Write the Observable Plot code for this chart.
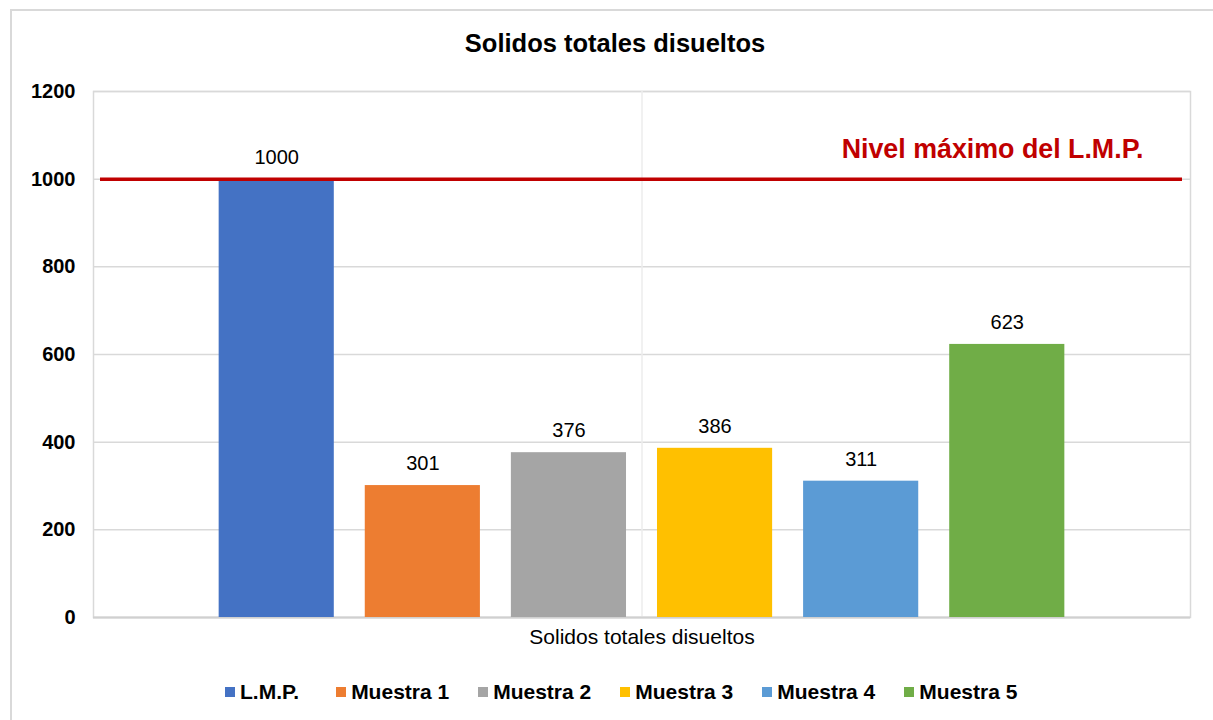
<!DOCTYPE html>
<html>
<head>
<meta charset="utf-8">
<script src="https://cdn.jsdelivr.net/npm/d3@7"></script>
<script src="https://cdn.jsdelivr.net/npm/@observablehq/plot@0.6"></script>
<style>
  html, body { margin: 0; padding: 0; background: #fff; }
  body { width: 1213px; height: 720px; overflow: hidden; position: relative; font-family: "Liberation Sans", Arial, sans-serif; }
  #border { position: absolute; left: 10px; top: 9px; width: 1215px; height: 730px; border: 2px solid #d9d9d9; box-sizing: border-box; }
  #title { position: absolute; left: 0; top: 31px; width: 1230px; text-align: center; font-weight: bold; font-size: 25.5px; line-height: 25px; color: #000; }
  #chart { position: absolute; left: 0; top: 70px; }
  #legend { position: absolute; left: 225px; top: 681px; display: flex; align-items: center; gap: 29px; font-weight: bold; font-size: 21px; line-height: 21px; color: #000; }
  .item { display: flex; align-items: center; }
  .item:first-child { margin-right: 8px; }
  .sw { width: 10px; height: 10px; margin-right: 5px; }
</style>
</head>
<body>
<div id="border"></div>
<div id="title">Solidos totales disueltos</div>
<div id="chart"></div>
<div id="legend"></div>
<script>
const series = ["L.M.P.", "Muestra 1", "Muestra 2", "Muestra 3", "Muestra 4", "Muestra 5"];
const values = [1000, 301, 376, 386, 311, 623];
const colors = ["#4472C4", "#ED7D31", "#A5A5A5", "#FFC000", "#5B9BD5", "#70AD47"];
const yTicks = [0, 200, 400, 600, 800, 1000, 1200];
const categoryLabel = "Solidos totales disueltos";
const limitValue = 1000;
const limitLabel = "Nivel máximo del L.M.P.";

const data = series.map((s, i) => ({series: s, value: values[i]}));

const chart = Plot.plot({
  width: 1213,
  height: 600,
  marginLeft: 93,
  marginRight: 23,
  marginTop: 21,
  marginBottom: 53,
  style: {fontFamily: "'Liberation Sans', Arial, sans-serif", background: "transparent", color: "#000"},
  x: {domain: series, paddingInner: 0.212, paddingOuter: 0.86, round: false, axis: null},
  y: {domain: [0, 1200], ticks: yTicks},
  color: {domain: series, range: colors},
  marks: [
    Plot.gridY(yTicks, {stroke: "#d9d9d9", strokeOpacity: 1, strokeWidth: 1.5}),
    Plot.frame({stroke: "#d9d9d9", strokeWidth: 1.5}),
    Plot.ruleX([0], {x: null, stroke: "#ececec", strokeWidth: 1.5}),
    Plot.ruleY([0], {stroke: "#d0d0d0", strokeWidth: 2}),
    Plot.barY(data, {x: "series", y: "value", fill: "series"}),
    Plot.text(data, {x: "series", y: "value", text: d => String(d.value), dy: -22, fontSize: 20, fill: "#000"}),
    Plot.ruleY([limitValue], {stroke: "#C00000", strokeWidth: 3.5, insetLeft: 7, insetRight: 8}),
    Plot.text([{t: limitLabel, v: limitValue}], {text: "t", y: "v", frameAnchor: "right", textAnchor: "end", dx: -47, dy: -30, fontSize: 26.8, fontWeight: "bold", fill: "#C00000"}),
    Plot.text([categoryLabel], {text: d => d, frameAnchor: "bottom", dy: 26, fontSize: 21, fill: "#000"}),
    Plot.axisY(yTicks, {tickSize: 0, tickPadding: 18, fontSize: 20, fontWeight: "bold", label: null, tickFormat: d => String(d)})
  ]
});
document.getElementById("chart").appendChild(chart);

const legend = document.getElementById("legend");
series.forEach((s, i) => {
  const item = document.createElement("div");
  item.className = "item";
  const sw = document.createElement("span");
  sw.className = "sw";
  sw.style.background = colors[i];
  const label = document.createElement("span");
  label.textContent = s;
  item.appendChild(sw);
  item.appendChild(label);
  legend.appendChild(item);
});
</script>
</body>
</html>
